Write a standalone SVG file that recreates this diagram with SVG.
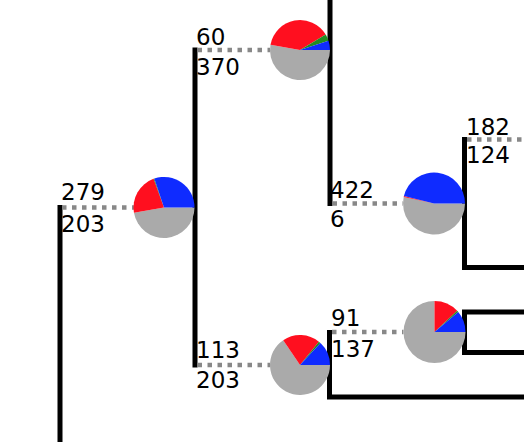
<svg xmlns="http://www.w3.org/2000/svg" width="524" height="442" viewBox="0 0 524 442">
<style>
.br{fill:none;stroke:#000;stroke-width:5;stroke-linejoin:miter}
.dt{fill:none;stroke:#888;stroke-width:4.5;stroke-dasharray:4.5 5.5}
.g{fill:#aaaaaa}.r{fill:#ff0f1f}.gr{fill:#228b22}.b{fill:#0f2bff}
text{font-family:"DejaVu Sans",Verdana,sans-serif;font-size:23px;fill:#000}
</style>
<rect width="524" height="442" fill="#fff"/>
<g id="connectors">
<path class="br" d="M60,205 V442"/>
<path class="dt" d="M62,207.5 H134"/>
<path class="br" d="M195,47.5 V367.5"/>
<path class="dt" d="M197.5,50 H270"/>
<path class="dt" d="M197.5,365 H270"/>
<path class="br" d="M330,0 V206"/>
<path class="dt" d="M332.5,203.5 H403"/>
<path class="br" d="M464.5,137 V267.5 H524"/>
<path class="dt" d="M467,139.5 H524"/>
<path class="br" d="M329.5,330 V397 H524"/>
<path class="dt" d="M332,332 H403.5"/>
<path class="br" d="M524,312 H464.5 V352.5 H524"/>
</g>
<g id="node-root">
<path class="g" d="M164,207.5 L194.5,207.5 A30.5,30.5 0 0 1 133.96,212.8 Z"/>
<path class="r" d="M164,207.5 L133.96,212.8 A30.5,30.5 0 0 1 153.57,178.84 Z"/>
<path class="gr" d="M164,207.5 L153.57,178.84 A30.5,30.5 0 0 1 154.32,178.58 Z"/>
<path class="b" d="M164,207.5 L154.32,178.58 A30.5,30.5 0 0 1 194.5,207.5 Z"/>
<text x="61" y="200">279</text>
<text x="61" y="232">203</text>
</g>
<g id="node-a">
<path class="g" d="M300,50 L330,50 A30,30 0 1 1 270.46,44.79 Z"/>
<path class="r" d="M300,50 L270.46,44.79 A30,30 0 0 1 325.71,34.55 Z"/>
<path class="gr" d="M300,50 L325.71,34.55 A30,30 0 0 1 328.53,40.73 Z"/>
<path class="b" d="M300,50 L328.53,40.73 A30,30 0 0 1 330,50 Z"/>
<text x="196" y="45">60</text>
<text x="196" y="75">370</text>
</g>
<g id="node-a1">
<path class="g" d="M434,203.5 L465,203.5 A31,31 0 1 1 403.68,197.05 Z"/>
<path class="r" d="M434,203.5 L403.68,197.05 A31,31 0 0 1 403.92,196 Z"/>
<path class="b" d="M434,203.5 L403.92,196 A31,31 0 0 1 465,203.5 Z"/>
<text x="330" y="198">422</text>
<text x="330" y="227">6</text>
</g>
<g id="node-a1a">
<text x="466" y="135">182</text>
<text x="466" y="163">124</text>
</g>
<g id="node-b">
<path class="g" d="M300,365 L330,365 A30,30 0 1 1 283.22,340.13 Z"/>
<path class="r" d="M300,365 L283.22,340.13 A30,30 0 0 1 318.88,341.69 Z"/>
<path class="gr" d="M300,365 L318.88,341.69 A30,30 0 0 1 320.46,343.06 Z"/>
<path class="b" d="M300,365 L320.46,343.06 A30,30 0 0 1 330,365 Z"/>
<text x="196" y="358">113</text>
<text x="196" y="388">203</text>
</g>
<g id="node-b1">
<path class="g" d="M434.5,332 L465.5,332 A31,31 0 1 1 434.5,301 Z"/>
<path class="r" d="M434.5,332 L434.5,301 A31,31 0 0 1 457.17,310.86 Z"/>
<path class="gr" d="M434.5,332 L457.17,310.86 A31,31 0 0 1 458.25,312.07 Z"/>
<path class="b" d="M434.5,332 L458.25,312.07 A31,31 0 0 1 465.5,332 Z"/>
<text x="331" y="326">91</text>
<text x="331" y="357">137</text>
</g>
</svg>
